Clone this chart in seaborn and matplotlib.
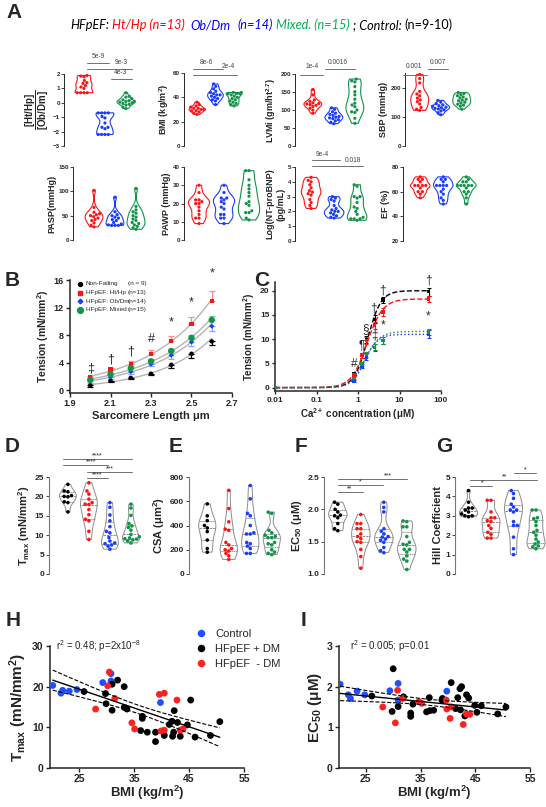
import numpy as np
import pandas as pd
import matplotlib
matplotlib.use('Agg')
import matplotlib.pyplot as plt
from matplotlib.lines import Line2D
import seaborn as sns

W, H = 546, 807
sns.set_style('ticks')
plt.rcParams['font.family'] = ['Liberation Sans', 'DejaVu Sans']
plt.rcParams['font.weight'] = 'bold'
plt.rcParams['mathtext.fontset'] = 'custom'
plt.rcParams['mathtext.rm'] = 'Liberation Sans:bold'
plt.rcParams['mathtext.bf'] = 'Liberation Sans:bold'
plt.rcParams['mathtext.it'] = 'Liberation Sans:italic:bold'
plt.rcParams['mathtext.default'] = 'regular'
plt.rcParams['axes.linewidth'] = 0.8

RED, BLUE, GREEN, BLACK = '#ff1414', '#1a3cff', '#129448', '#000000'

# ---------------- data: panel A ----------------
A_GROUPS = ['Ht/Hp', 'Ob/Dm', 'Mixed']
ratio_hthp = [1.9, 1.85, 1.8, 1.55, 1.4, 1.35, 1.2, 1.1, 1.0, 0.7, 0.7, 0.7, 0.7]
ratio_obdm = [-0.7, -0.7, -0.7, -0.7, -0.95, -1.05, -1.4, -1.7, -1.7, -1.8, -2.2, -2.2, -2.2, -2.2]
ratio_mixed = [0.7, 0.45, 0.4, 0.3, 0.2, 0.15, 0.1, 0.1, 0.05, 0.0, -0.05, -0.1, -0.15, -0.3, -0.4]
bmi_hthp = [36, 34, 33, 32, 31, 31, 30, 30, 29, 29, 28, 27, 26]
bmi_obdm = [51, 49, 47, 45, 44, 43, 42, 42, 41, 40, 39, 38, 37, 34]
bmi_mixed = [44, 44, 43, 43, 43, 42, 41, 40, 39, 38, 37, 36, 35, 34, 33]
lvmi_hthp = [157, 142, 128, 124, 120, 118, 117, 115, 113, 110, 105, 100, 91]
lvmi_obdm = [106, 102, 95, 91, 88, 85, 82, 80, 78, 76, 73, 70, 66, 62]
lvmi_mixed = [186, 181, 178, 165, 151, 142, 130, 119, 114, 109, 100, 95, 93, 77, 63]
sbp_hthp = [245, 231, 216, 187, 178, 172, 164, 158, 152, 144, 132, 126, 122]
sbp_obdm = [156, 150, 145, 141, 138, 136, 133, 131, 129, 127, 124, 120, 114, 107]
sbp_mixed = [183, 180, 176, 172, 168, 165, 160, 157, 155, 150, 147, 143, 140, 136, 126]
pasp_hthp = [102, 67, 57, 54, 52, 50, 48, 45, 42, 40, 35, 30, 27]
pasp_obdm = [88, 58, 52, 50, 47, 45, 42, 40, 36, 33, 31, 30, 30, 30]
pasp_mixed = [106, 69, 62, 58, 55, 50, 47, 43, 40, 36, 34, 31, 28, 25, 22]
pawp_hthp = [30, 26, 22, 22, 21, 20, 20, 18, 16, 14, 12, 12, 9]
pawp_obdm = [30, 26, 23, 23, 22, 21, 20, 18, 17, 14, 14, 12, 12, 9]
pawp_mixed = [38, 38, 33, 30, 28, 26, 24, 21, 20, 19, 16, 15, 15, 12, 11]
bnp_hthp = [4.3, 4.1, 4.0, 3.8, 3.6, 3.4, 3.3, 3.2, 3.1, 2.8, 2.6, 2.4, 2.2]
bnp_obdm = [3.0, 2.9, 2.8, 2.7, 2.4, 2.2, 2.1, 2.0, 2.0, 1.9, 1.8, 1.7, 1.6, 1.55]
bnp_mixed = [3.8, 3.7, 3.0, 3.0, 2.9, 2.6, 2.3, 2.2, 2.0, 1.8, 1.6, 1.5, 1.5, 1.5, 1.4]
ef_hthp = [72, 70, 70, 68, 65, 65, 65, 65, 63, 60, 60, 58, 55]
ef_obdm = [72, 70, 70, 68, 65, 65, 65, 65, 62, 60, 58, 55, 53, 50]
ef_mixed = [72, 70, 68, 68, 65, 65, 65, 65, 65, 63, 60, 60, 58, 55, 50]

# ---------------- data: panel B ----------------
sarcomere_length = [2.0, 2.1, 2.2, 2.3, 2.4, 2.5, 2.6]
tens_nf = [0.7, 1.4, 1.8, 2.4, 3.7, 5.3, 7.1]
tens_hthp = [1.9, 3.0, 3.8, 5.3, 7.1, 9.6, 13.0]
tens_obdm = [1.3, 1.9, 2.7, 3.8, 5.1, 7.0, 9.3]
tens_mixed = [1.5, 2.3, 3.2, 4.2, 5.7, 7.6, 10.2]
sem_nf = [0.25, 0.2, 0.2, 0.2, 0.45, 0.55, 0.6]
sem_hthp = [0.2, 0.25, 0.5, 0.55, 0.75, 1.0, 1.4]
sem_obdm = [0.2, 0.2, 0.3, 0.35, 0.5, 0.6, 0.7]
sem_mixed = [0.2, 0.2, 0.3, 0.3, 0.35, 0.45, 0.6]
B_LABELS = ['Non-Failing', 'HFpEF: Ht/Hp', 'HFpEF: Ob/Dm', 'HFpEF: Mixed']
B_NTEXT = ['(n = 9)', '(n=13)', '(n=14)', '(n=15)']
B_SIG = ['\u2021', '\u2020', '\u2020', '#', '*', '*', '*']
B_SIG_Y = [3.2, 4.4, 5.6, 7.5, 9.8, 12.7, 16.9]

# ---------------- data: panel C ----------------
ca_conc = [0.01, 0.8, 1.26, 1.6, 2.5, 4.0, 50]
ca_nf = [0.0, 2.8, 6.6, 9.9, 14.1, 18.1, 19.8]
ca_hthp = [0.0, 2.6, 6.6, 9.7, 12.8, 15.6, 18.3]
ca_obdm = [0.0, 1.4, 4.4, 6.3, 8.3, 9.7, 11.1]
ca_mixed = [0.0, 1.9, 4.9, 6.9, 8.3, 9.7, 11.5]
casem_nf = [0.1, 0.3, 0.5, 0.7, 0.8, 0.6, 0.8]
casem_hthp = [0.1, 0.3, 0.5, 0.7, 0.8, 0.8, 0.7]
casem_obdm = [0.1, 0.2, 0.4, 0.6, 0.7, 0.8, 0.8]
casem_mixed = [0.1, 0.2, 0.4, 0.5, 0.6, 0.7, 0.6]
# Hill fit parameters (Fmax, EC50, n)
hill_nf = (20.0, 1.7, 2.7)
hill_hthp = (18.3, 1.65, 2.3)
hill_obdm = (11.0, 1.45, 2.8)
hill_mixed = (11.6, 1.45, 2.4)
C_SIG = ['#', '\u00b6', '\u00a7', '\u2021', '\u2020', '\u2020', '*', '\u2020', '*']
C_SIG_X = [0.8, 1.2, 1.55, 2.45, 2.35, 3.9, 4.0, 50, 50]
C_SIG_Y = [4.9, 8.8, 12.0, 10.8, 16.3, 20.1, 12.8, 22.2, 14.6]

# ---------------- data: panels D-G ----------------
DG_GROUPS = ['NF', 'Ht/Hp', 'Ob/Dm', 'Mixed']
tmax_nf = [23.1, 21.4, 21.2, 20.2, 19.9, 20.0, 18.6, 18.4, 16.0]
tmax_hthp = [23.5, 21.4, 20.6, 19.3, 18.4, 18.0, 17.9, 16.6, 15.3, 14.1, 13.7, 11.0, 8.9]
tmax_obdm = [18.4, 17.2, 15.2, 13.7, 12.2, 11.0, 10.6, 9.4, 8.5, 8.0, 7.8, 7.5, 7.2, 6.4]
tmax_mixed = [18.0, 17.0, 15.1, 13.0, 12.4, 12.0, 11.3, 10.2, 9.6, 9.3, 9.1, 9.0, 8.8, 8.5, 8.0]
csa_nf = [578, 480, 440, 400, 380, 350, 280, 210, 180]
csa_hthp = [690, 540, 430, 370, 360, 260, 240, 210, 200, 190, 170, 150, 120]
csa_obdm = [730, 620, 500, 480, 400, 340, 330, 330, 260, 250, 230, 210, 170, 170]
csa_mixed = [510, 500, 360, 340, 320, 310, 300, 300, 260, 250, 240, 200, 180, 170, 160]
ec50_nf = [2.11, 2.08, 2.0, 1.96, 1.91, 1.9, 1.87, 1.78, 1.7, 1.67]
ec50_hthp = [1.92, 1.78, 1.78, 1.70, 1.70, 1.62, 1.58, 1.55, 1.5, 1.49, 1.38, 1.27, 1.09]
ec50_obdm = [2.11, 2.03, 1.96, 1.70, 1.66, 1.62, 1.58, 1.57, 1.54, 1.52, 1.49, 1.41, 1.36, 1.33]
ec50_mixed = [1.82, 1.81, 1.73, 1.73, 1.58, 1.49, 1.46, 1.45, 1.38, 1.38, 1.34, 1.28, 1.23, 1.2, 1.07]
hill_coef_nf = [4.3, 3.7, 3.4, 3.4, 3.3, 3.2, 3.1, 3.0, 3.0, 2.95]
hill_coef_hthp = [3.8, 3.8, 3.2, 2.9, 2.9, 2.75, 2.7, 2.5, 2.35, 2.15, 2.05, 1.85, 1.85]
hill_coef_obdm = [4.3, 4.15, 3.9, 3.6, 3.45, 3.3, 3.3, 3.2, 2.7, 2.5, 2.5, 1.9, 1.3, 1.0]
hill_coef_mixed = [3.3, 3.3, 2.9, 2.85, 2.7, 2.5, 2.25, 2.15, 2.0, 1.8, 1.65, 1.55, 1.45, 1.4, 1.3]

# ---------------- data: panels H-I ----------------
H_GROUPS = ['Control', 'HFpEF + DM', 'HFpEF  - DM']
h_bmi_ctrl = [20.2, 21.7, 22.0, 23.2, 24.6, 29.3, 30.8, 30.8, 39.8]
h_tmax_ctrl = [20.3, 18.4, 19.1, 18.9, 19.3, 21.0, 21.4, 23.2, 16.1]
h_bmi_dm = [25.9, 29.8, 29.9, 31.0, 31.0, 32.0, 33.2, 33.2, 33.7, 36.5, 36.5, 36.2, 37.4, 38.9,
            38.9, 40.5, 41.4, 41.9, 42.3, 42.0, 42.2, 42.9, 43.4, 44.7, 45.3, 46.1, 50.6, 48.9]
h_tmax_dm = [18.8, 18.3, 15.8, 14.2, 20.6, 21.6, 20.0, 14.9, 14.5, 12.7, 12.2, 9.2, 8.8, 8.8,
             6.5, 8.0, 10.7, 11.5, 14.1, 7.8, 8.8, 11.2, 7.8, 10.6, 16.7, 7.6, 11.4, 8.0]
h_bmi_nodm = [28.0, 30.2, 30.5, 31.5, 34.6, 35.1, 39.6, 40.5, 39.9, 40.5, 42.8, 43.4, 43.9]
h_tmax_nodm = [14.5, 20.2, 23.6, 17.1, 11.1, 9.6, 18.1, 18.4, 9.1, 9.3, 16.7, 9.3, 9.6]
i_bmi_ctrl = [20.3, 21.8, 22.2, 23.4, 24.8, 29.4, 30.9, 30.9, 39.8]
i_ec50_ctrl = [2.06, 1.80, 1.71, 1.89, 1.80, 1.90, 2.08, 1.67, 1.89]
i_bmi_dm = [26.1, 29.8, 30.0, 30.9, 31.9, 33.2, 33.2, 33.6, 36.1, 36.6, 36.7, 37.4, 38.9, 39.0,
            40.6, 41.4, 41.8, 42.2, 42.5, 42.3, 43.1, 43.4, 43.8, 44.9, 45.3, 46.1, 49.1, 50.6]
i_ec50_dm = [1.77, 1.39, 2.44, 1.51, 1.75, 1.35, 1.27, 1.57, 1.38, 1.73, 1.41, 1.42, 1.67, 1.71,
             2.10, 1.46, 1.73, 1.95, 2.00, 1.43, 1.28, 1.80, 1.72, 1.54, 1.37, 1.53, 1.33, 1.50]
i_bmi_nodm = [28.1, 30.4, 30.8, 31.7, 34.7, 35.2, 39.7, 39.8, 40.4, 40.6, 42.8, 43.4, 44.0]
i_ec50_nodm = [1.50, 1.11, 1.91, 1.71, 1.63, 1.59, 1.67, 1.45, 1.22, 1.50, 1.07, 1.33, 1.32]

# ---------------- figure ----------------
fig = plt.figure(figsize=(W / 100, H / 100), dpi=100)


def axpx(l, t, r, b):
    return fig.add_axes([l / W, 1 - b / H, (r - l) / W, (b - t) / H])


def fx(x):
    return x / W


def fy(y):
    return 1 - y / H


def sig_px(x1, x2, y, text, tx, ty, fs=4.8, color='#444444'):
    fig.add_artist(Line2D([fx(x1), fx(x2)], [fy(y), fy(y)], color='#707070', lw=0.7,
                          transform=fig.transFigure))
    fig.text(fx(tx), fy(ty), text, ha='center', va='center', fontsize=fs,
             fontweight='normal', color=color)


def panel_letter(x, y, s):
    fig.text(fx(x), fy(y), s, fontsize=15, fontweight='bold', ha='center', va='center')


def bold_ticks(ax):
    for lbl in ax.get_xticklabels() + ax.get_yticklabels():
        lbl.set_fontweight('bold')


def violin_a(left, top, bottom, off, s, values, ylim, yticks, ylabel, ylfs=6.5):
    n = len(values)
    right = left + (off + n - 0.5) * s
    ax = axpx(left, top, right, bottom)
    df = pd.DataFrame({'group': np.repeat(A_GROUPS, [len(v) for v in values]),
                       'value': np.concatenate([np.asarray(v, float) for v in values])})
    pal = dict(zip(A_GROUPS, [RED, BLUE, GREEN]))
    sns.violinplot(data=df, x='group', y='value', hue='group', order=A_GROUPS,
                   hue_order=A_GROUPS, palette=pal, fill=False, inner=None, cut=0,
                   bw_adjust=0.7, width=0.85, linewidth=0.8, density_norm='width',
                   legend=False, ax=ax)
    sns.swarmplot(data=df, x='group', y='value', hue='group', order=A_GROUPS,
                  hue_order=A_GROUPS, palette=pal, size=2.3, legend=False, ax=ax)
    ax.set_xlim(-off, n - 0.5)
    ax.set_ylim(*ylim)
    ax.set_yticks(yticks)
    ax.set_xticks([])
    ax.set_xlabel('')
    ax.set_ylabel(ylabel, fontsize=ylfs, fontweight='bold', labelpad=1.5)
    for sp in ['top', 'right', 'bottom']:
        ax.spines[sp].set_visible(False)
    ax.spines['left'].set_linewidth(0.7)
    ax.tick_params(axis='y', labelsize=4.5, length=2, width=0.6, pad=1)
    bold_ticks(ax)
    return ax


def violin_dg(left, off, s, values, ylim, yticks, ylabel, yticklabels=None):
    n = len(values)
    right = left + (off + n - 0.5) * s
    ax = axpx(left, 477, right, 574)
    df = pd.DataFrame({'group': np.repeat(DG_GROUPS, [len(v) for v in values]),
                       'value': np.concatenate([np.asarray(v, float) for v in values])})
    pal = dict(zip(DG_GROUPS, [BLACK, RED, BLUE, GREEN]))
    sns.violinplot(data=df, x='group', y='value', order=DG_GROUPS, color='#8c8c8c',
                   fill=False, inner='quart', cut=0, bw_adjust=0.75, width=0.8,
                   linewidth=0.7, density_norm='width', ax=ax)
    sns.swarmplot(data=df, x='group', y='value', hue='group', order=DG_GROUPS,
                  hue_order=DG_GROUPS, palette=pal, size=2.6, legend=False, ax=ax)
    ax.set_xlim(-off, n - 0.5)
    ax.set_ylim(*ylim)
    ax.set_yticks(yticks)
    if yticklabels is not None:
        ax.set_yticklabels(yticklabels)
    ax.set_xticks([])
    ax.set_xlabel('')
    ax.set_ylabel(ylabel, fontsize=8, fontweight='bold', labelpad=2)
    for sp in ['top', 'right', 'bottom']:
        ax.spines[sp].set_visible(False)
    ax.spines['left'].set_color('#777777')
    ax.tick_params(axis='y', labelsize=6, length=2, width=0.6, pad=1.5)
    bold_ticks(ax)
    return ax


# ---------------- title ----------------
panel_letter(14, 13, 'A')
TITLE_PARTS = [('HFpEF:', BLACK, 'italic', 3), ('Ht/Hp (n=13)', '#ff0000', 'italic', 6),
               ('Ob/Dm', '#0000ff', 'italic', 7), ('(n=14)', '#0000ff', 'italic', 3),
               ('Mixed. (n=15)', '#00b050', 'italic', 3), ('; Control:', BLACK, 'italic', 3),
               ('(n=9-10)', BLACK, 'normal', 0)]
renderer = fig.canvas.get_renderer()


def draw_title(fs, x0, keep):
    x = x0
    arts = []
    for txt, col, st, gap in TITLE_PARTS:
        t = fig.text(fx(x), fy(25), txt, color=col, style=st, fontsize=fs,
                     family=['Lato', 'DejaVu Sans'], fontweight='normal', va='center')
        w = t.get_window_extent(renderer).width
        arts.append(t)
        x += w + gap
    if not keep:
        for a in arts:
            a.remove()
    return x - x0


tw = draw_title(9, 70, False)
fs_title = 9 * (383 - 25) / (tw - 25)
draw_title(fs_title, 70, True)

# ---------------- panel A row 1 ----------------
violin_a(64, 74, 146, 0.95, 21, [ratio_hthp, ratio_obdm, ratio_mixed], (-3, 2),
         [-3, -2, -1, 0, 1, 2], r'$\dfrac{[\mathrm{Ht/Hp}]}{[\mathrm{Ob/Dm}]}$', ylfs=7)
violin_a(184, 73, 146, 0.7, 18.5, [bmi_hthp, bmi_obdm, bmi_mixed], (0, 60),
         [0, 20, 40, 60], 'BMI (kg/m$^2$)')
violin_a(295, 74, 146, 0.85, 21, [lvmi_hthp, lvmi_obdm, lvmi_mixed], (0, 200),
         [0, 50, 100, 150, 200], 'LVMi (gm/ht$^{2.7}$)')
violin_a(405, 73, 146, 0.7, 21, [sbp_hthp, sbp_obdm, sbp_mixed], (0, 250),
         [0, 100, 200], 'SBP (mmHg)')

sig_px(87, 109, 63, '5e-9', 98, 57)
sig_px(87, 132, 69, '9e-3', 121, 62)
sig_px(111, 132, 79, '4e-3', 120, 73)
sig_px(193, 223, 69, '8e-6', 206, 62)
sig_px(193, 237, 75, '2e-4', 228, 67)
sig_px(300, 323, 75, '1e-4', 312, 67)
sig_px(325, 355, 69, '0.0016', 338, 62)
sig_px(403, 427, 75, '0.001', 414, 67)
sig_px(428, 448, 69, '0.007', 438, 62)

# ---------------- panel A row 2 ----------------
violin_a(73, 167, 240, 1.0, 21, [pasp_hthp, pasp_obdm, pasp_mixed], (0, 150),
         [0, 50, 100, 150], 'PASP(mmHg)')
violin_a(184, 167, 240, 0.6, 25, [pawp_hthp, pawp_obdm, pawp_mixed], (0, 40),
         [0, 10, 20, 30, 40], 'PAWP (mmHg)')
violin_a(295, 167, 241, 0.7, 23, [bnp_hthp, bnp_obdm, bnp_mixed], (0, 5),
         [0, 1, 2, 3, 4, 5], 'Log(NT-proBNP)\n(pg/mL)')
violin_a(403, 167, 241, 0.75, 23, [ef_hthp, ef_obdm, ef_mixed], (20, 80),
         [20, 40, 60, 80], 'EF (%)')
sig_px(312, 340, 160, '9e-4', 322, 154)
sig_px(312, 363, 166, '0.018', 353, 161)

# ---------------- panel B ----------------
panel_letter(12, 280, 'B')
axB = axpx(70, 280, 232, 393)
b_series = [(tens_nf, sem_nf, BLACK, '#000000', 'o', 3.2, 'down'),
            (tens_hthp, sem_hthp, RED, '#ff8a8a', 's', 3.0, 'up'),
            (tens_obdm, sem_obdm, BLUE, '#8fa5ff', 'D', 2.6, 'down'),
            (tens_mixed, sem_mixed, GREEN, '#6fc79a', 'o', 4.6, 'up')]
sl = np.asarray(sarcomere_length)
for vals, sem, col, ecol, mk, ms, d in b_series:
    vals = np.asarray(vals)
    sem = np.asarray(sem)
    slope, inter = np.polyfit(sl, np.log(vals), 1)
    xs = np.linspace(sl.min(), sl.max(), 120)
    axB.plot(xs, np.exp(inter + slope * xs), color='#b5b5b5', lw=1.0, zorder=1)
    yerr = [np.zeros_like(sem), sem] if d == 'up' else [sem, np.zeros_like(sem)]
    axB.errorbar(sl, vals, yerr=yerr, fmt='none', ecolor=ecol, elinewidth=0.9,
                 capsize=2, capthick=0.9, zorder=2)
df_b = pd.DataFrame({'x': np.tile(sl, 4),
                     'y': np.concatenate([tens_nf, tens_hthp, tens_obdm, tens_mixed]),
                     'g': np.repeat(B_LABELS, len(sl))})
for (vals, sem, col, ecol, mk, ms, d), lab in zip(b_series, B_LABELS):
    sub = df_b[df_b['g'] == lab]
    sns.scatterplot(data=sub, x='x', y='y', color=col, marker=mk, s=ms ** 2,
                    edgecolor='none', ax=axB, zorder=3, legend=False)
for xv, s_, yv in zip(sarcomere_length, B_SIG, B_SIG_Y):
    axB.text(xv, yv, s_, ha='center', va='center', fontsize=9, fontweight='normal',
             clip_on=False)
axB.set_xlim(1.9, 2.7)
axB.set_ylim(-0.4, 16)
axB.set_xticks([1.9, 2.1, 2.3, 2.5, 2.7])
axB.set_yticks([0, 4, 8, 12, 16])
axB.set_xlabel('Sarcomere Length \u03bcm', fontsize=8, fontweight='bold', labelpad=2)
axB.set_ylabel('Tension (mN/mm$^2$)', fontsize=7.5, fontweight='bold', labelpad=2)
axB.tick_params(labelsize=6.5, length=3, width=1, pad=1.5)
for sp in ['top', 'right']:
    axB.spines[sp].set_visible(False)
for sp in ['left', 'bottom']:
    axB.spines[sp].set_linewidth(1.1)
bold_ticks(axB)
# B legend
for i, ((vals, sem, col, ecol, mk, ms, d), lab, nt) in enumerate(zip(b_series, B_LABELS, B_NTEXT)):
    yy = 284 + i * 8.6
    fig.add_artist(Line2D([fx(80)], [fy(yy)], marker=mk, color=col, ms=ms * 0.9,
                          linestyle='none', transform=fig.transFigure))
    fig.text(fx(86), fy(yy), lab, fontsize=4.6, fontweight='normal', va='center')
    fig.text(fx(128), fy(yy), nt, fontsize=4.6, fontweight='normal', va='center')

# ---------------- panel C ----------------
panel_letter(262, 280, 'C')
axC = axpx(275, 282, 441, 391)
c_series = [(ca_nf, casem_nf, hill_nf, BLACK, '--'), (ca_hthp, casem_hthp, hill_hthp, RED, '--'),
            (ca_obdm, casem_obdm, hill_obdm, BLUE, ':'), (ca_mixed, casem_mixed, hill_mixed, GREEN, ':')]
xs = np.logspace(-2, np.log10(50), 300)
for vals, sem, (fmax, ec, nh), col, ls in c_series:
    axC.plot(xs, fmax * xs ** nh / (xs ** nh + ec ** nh), color=col, lw=1.0, ls=ls, zorder=1)
    axC.errorbar(ca_conc, vals, yerr=sem, fmt='none', ecolor=col, elinewidth=0.8,
                 capsize=1.5, capthick=0.8, zorder=2)
df_c = pd.DataFrame({'x': np.tile(ca_conc, 4),
                     'y': np.concatenate([ca_nf, ca_hthp, ca_obdm, ca_mixed]),
                     'g': np.repeat(['nf', 'hthp', 'obdm', 'mixed'], len(ca_conc))})
sns.scatterplot(data=df_c, x='x', y='y', hue='g', palette=[BLACK, RED, BLUE, GREEN],
                marker='s', s=6, edgecolor='none', legend=False, ax=axC, zorder=3)
for s_, xv, yv in zip(C_SIG, C_SIG_X, C_SIG_Y):
    axC.text(xv, yv, s_, ha='center', va='center', fontsize=8.5, fontweight='normal',
             clip_on=False)
axC.set_xscale('log')
axC.set_xlim(0.01, 100)
axC.set_ylim(-0.7, 21.8)
axC.set_xticks([0.01, 0.1, 1, 10, 100])
axC.set_xticklabels(['0.01', '0.1', '1', '10', '100'])
axC.minorticks_off()
axC.set_yticks([0, 5, 10, 15, 20])
axC.set_xlabel('Ca$^{2+}$ concentration (\u03bcM)', fontsize=7, fontweight='bold', labelpad=2)
axC.set_ylabel('Tension (mN/mm$^2$)', fontsize=7, fontweight='bold', labelpad=2)
axC.tick_params(labelsize=6, length=2.5, width=1, pad=1.5)
for sp in ['top', 'right']:
    axC.spines[sp].set_visible(False)
for sp in ['left', 'bottom']:
    axC.spines[sp].set_linewidth(1.1)
bold_ticks(axC)

# ---------------- panels D-G ----------------
panel_letter(12, 447, 'D')
panel_letter(176, 447, 'E')
panel_letter(301, 447, 'F')
panel_letter(444, 447, 'G')
violin_dg(49, 0.9, 21, [tmax_nf, tmax_hthp, tmax_obdm, tmax_mixed], (0, 25),
          [0, 5, 10, 15, 20, 25], 'T$_{max}$ (mN/mm$^2$)')
violin_dg(189, 0.85, 21.5, [csa_nf, csa_hthp, csa_obdm, csa_mixed], (0, 800),
          [0, 200, 400, 600, 800], 'CSA (\u03bcm$^2$)')
violin_dg(324, 0.6, 23, [ec50_nf, ec50_hthp, ec50_obdm, ec50_mixed], (1.0, 2.5),
          [1.0, 1.5, 2.0, 2.5], 'EC$_{50}$ (\u03bcM)', ['1.0', '1.5', '2.0', '2.5'])
violin_dg(455, 0.6, 22.5, [hill_coef_nf, hill_coef_hthp, hill_coef_obdm, hill_coef_mixed],
          (0, 5), [0, 1, 2, 3, 4, 5], 'Hill Coefficient')
sig_px(63, 132, 459, '****', 97, 456, fs=5, color='#222222')
sig_px(63, 108, 465, '****', 91, 462, fs=5, color='#222222')
sig_px(87, 132, 472, '***', 110, 469, fs=5, color='#222222')
sig_px(87, 108, 478, '****', 97, 475, fs=5, color='#222222')
sig_px(338, 407, 479, '***', 388, 476, fs=5, color='#222222')
sig_px(338, 383, 485, '*', 360, 482, fs=5, color='#222222')
sig_px(338, 363, 492, '**', 350, 489, fs=5, color='#222222')
sig_px(514, 536, 473, '*', 525, 470, fs=5, color='#222222')
sig_px(470, 537, 480, '**', 505, 477, fs=5, color='#222222')
sig_px(470, 492, 486, '*', 482, 483, fs=5, color='#222222')


# ---------------- panels H-I ----------------
def scatter_reg(ax, xc, yc, xd, yd, xn, yn):
    df = pd.DataFrame({'bmi': np.concatenate([xc, xd, xn]),
                       'val': np.concatenate([yc, yd, yn]),
                       'grp': np.repeat(H_GROUPS, [len(xc), len(xd), len(xn)])})
    sns.scatterplot(data=df, x='bmi', y='val', hue='grp', hue_order=H_GROUPS,
                    palette=['#1f4fff', BLACK, '#ff2020'], s=24, edgecolor='none',
                    ax=ax, zorder=3)
    x = df['bmi'].to_numpy()
    y = df['val'].to_numpy()
    slope, inter = np.polyfit(x, y, 1)
    n = len(x)
    resid = y - (inter + slope * x)
    s_err = np.sqrt(np.sum(resid ** 2) / (n - 2))
    xs_ = np.linspace(x.min(), x.max(), 100)
    ci = 2.0 * s_err * np.sqrt(1 / n + (xs_ - x.mean()) ** 2 / np.sum((x - x.mean()) ** 2))
    yfit = inter + slope * xs_
    ax.plot(xs_, yfit, color='black', lw=1.0, zorder=4)
    ax.plot(xs_, yfit + ci, color='black', lw=0.8, ls='--', zorder=4)
    ax.plot(xs_, yfit - ci, color='black', lw=0.8, ls='--', zorder=4)
    for sp in ['top', 'right']:
        ax.spines[sp].set_visible(False)
    for sp in ['left', 'bottom']:
        ax.spines[sp].set_linewidth(1.1)
    ax.tick_params(labelsize=7.5, length=3, width=1, pad=1.5)
    ax.set_xticks([25, 35, 45, 55])
    ax.set_xlabel('BMI (kg/m$^2$)', fontsize=9.5, fontweight='bold', labelpad=0)
    bold_ticks(ax)


panel_letter(13, 621, 'H')
panel_letter(304, 621, 'I')
axH = axpx(50, 646, 244, 768)
scatter_reg(axH, h_bmi_ctrl, h_tmax_ctrl, h_bmi_dm, h_tmax_dm, h_bmi_nodm, h_tmax_nodm)
axH.set_xlim(19.7, 55)
axH.set_ylim(0, 30)
axH.set_yticks([0, 10, 20, 30])
axH.set_ylabel('T$_{max}$ (mN/mm$^2$)', fontsize=11, fontweight='bold', labelpad=2)
axH.text(0.03, 1.0, 'r$^2$ = 0.48; p=2x10$^{-8}$', transform=axH.transAxes, fontsize=7,
         fontweight='normal', va='center', ha='left')
leg = axH.legend(loc='upper left', bbox_to_anchor=(fx(184), fy(623)),
                 bbox_transform=fig.transFigure, frameon=False, fontsize=8,
                 handletextpad=0.3, labelspacing=0.45, borderpad=0, markerscale=1.1)
for t in leg.get_texts():
    t.set_fontweight('normal')

axI = axpx(339, 646, 530, 768)
scatter_reg(axI, i_bmi_ctrl, i_ec50_ctrl, i_bmi_dm, i_ec50_dm, i_bmi_nodm, i_ec50_nodm)
axI.legend_.remove()
axI.set_xlim(20.1, 55)
axI.set_ylim(0, 3)
axI.set_yticks([0, 1, 2, 3])
axI.set_ylabel('EC$_{50}$ (\u03bcM)', fontsize=11, fontweight='bold', labelpad=2)
axI.text(0.06, 1.0, 'r$^2$ = 0.005; p=0.01', transform=axI.transAxes, fontsize=7,
         fontweight='normal', va='center', ha='left')

fig.savefig('out.png', dpi=100)
